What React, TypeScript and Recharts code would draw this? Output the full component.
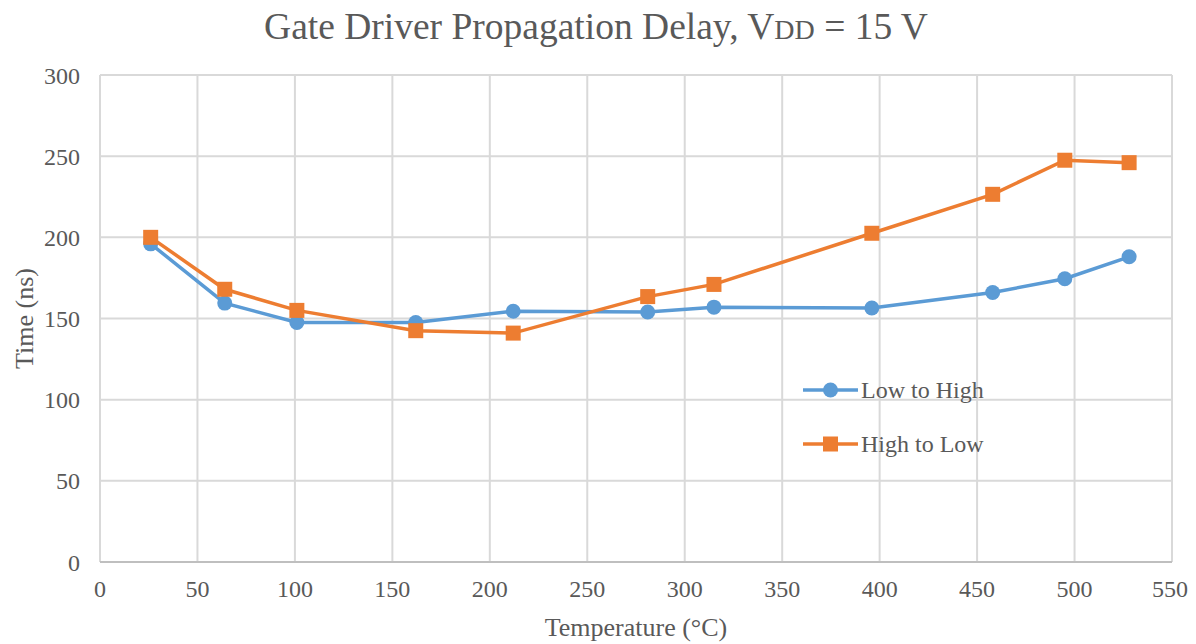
import React from 'react';
import { LineChart, Line, XAxis, YAxis, CartesianGrid, Legend } from 'recharts';

const temperatures = [26, 64, 101, 162, 212, 281, 315, 396, 458, 495, 528];
const lowToHigh = [196, 159.5, 147.5, 147.5, 154.5, 154, 157, 156.5, 166, 174.5, 188];
const highToLow = [200, 168, 155, 142.5, 141, 163.5, 171, 202.5, 226.5, 247.5, 246];
const xTicks = [0, 50, 100, 150, 200, 250, 300, 350, 400, 450, 500, 550];
const yTicks = [0, 50, 100, 150, 200, 250, 300];

const data = temperatures.map((t, i) => ({ t, low: lowToHigh[i], high: highToLow[i] }));

const BLUE = '#5B9BD5';
const ORANGE = '#ED7D31';
const TEXT = '#595959';
const FONT = '"Liberation Serif", "Times New Roman", serif';

const SquareDot = (props: any) => {
  const { cx, cy } = props;
  if (cx == null || cy == null) return null;
  return <rect x={cx - 7.5} y={cy - 7.5} width={15} height={15} fill={ORANGE} />;
};
const CircleDot = (props: any) => {
  const { cx, cy } = props;
  if (cx == null || cy == null) return null;
  return <circle cx={cx} cy={cy} r={7.5} fill={BLUE} />;
};

const renderLegend = () => (
  <div style={{ fontFamily: FONT, fontSize: 24, color: TEXT }}>
    {[
      { name: 'Low to High', color: BLUE, shape: 'circle' },
      { name: 'High to Low', color: ORANGE, shape: 'square' },
    ].map((it) => (
      <div key={it.name} style={{ display: 'flex', alignItems: 'center', height: 54 }}>
        <svg width={58} height={20} style={{ marginRight: 0 }}>
          <line x1={0} y1={10} x2={55} y2={10} stroke={it.color} strokeWidth={3.5} />
          {it.shape === 'circle' ? (
            <circle cx={27.5} cy={10} r={7.5} fill={it.color} />
          ) : (
            <rect x={20} y={2.5} width={15} height={15} fill={it.color} />
          )}
        </svg>
        <span>{it.name}</span>
      </div>
    ))}
  </div>
);

export default function App() {
  return (
    <div style={{ position: 'relative', width: 1180, height: 636, fontFamily: FONT }}>
      <div
        style={{
          position: 'absolute',
          top: -3,
          left: 0,
          width: 1180,
          textAlign: 'center',
          fontSize: 37.5,
          color: TEXT,
          paddingRight: 4,
          boxSizing: 'border-box',
          zIndex: 2,
        }}
      >
        Gate Driver Propagation Delay, V<span style={{ fontSize: 28 }}>DD</span> = 15 V
      </div>
      <LineChart
        width={1180}
        height={636}
        data={data}
        margin={{ top: 67, right: 16, bottom: 0, left: 0 }}
      >
        <CartesianGrid stroke="#d9d9d9" strokeWidth={2} />
        <XAxis
          dataKey="t"
          type="number"
          domain={[0, 550]}
          ticks={xTicks}
          height={82}
          tickLine={false}
          tickSize={0}
          tickMargin={18}
          axisLine={{ stroke: '#bfbfbf', strokeWidth: 2 }}
          tick={{ fill: TEXT, fontSize: 24, fontFamily: FONT }}
          label={{
            value: 'Temperature (°C)',
            position: 'insideBottom',
            offset: 8,
            fill: TEXT,
            fontSize: 26,
            fontFamily: FONT,
          }}
        />
        <YAxis
          type="number"
          domain={[0, 300]}
          ticks={yTicks}
          width={92}
          tickLine={false}
          tickSize={0}
          tickMargin={20}
          axisLine={false}
          tick={{ fill: TEXT, fontSize: 24, fontFamily: FONT }}
          label={{
            value: 'Time (ns)',
            angle: -90,
            position: 'insideLeft',
            offset: 16,
            style: { textAnchor: 'middle' },
            fill: TEXT,
            fontSize: 26,
            fontFamily: FONT,
          }}
        />
        <Legend
          layout="horizontal"
          verticalAlign="middle"
          align="center"
          content={renderLegend}
          wrapperStyle={{ left: 795, top: 355, width: 220 }}
        />
        <Line
          dataKey="low"
          name="Low to High"
          stroke={BLUE}
          strokeWidth={3.5}
          dot={<CircleDot />}
          activeDot={false}
          isAnimationActive={false}
        />
        <Line
          dataKey="high"
          name="High to Low"
          stroke={ORANGE}
          strokeWidth={3.5}
          dot={<SquareDot />}
          activeDot={false}
          isAnimationActive={false}
        />
      </LineChart>
    </div>
  );
}
